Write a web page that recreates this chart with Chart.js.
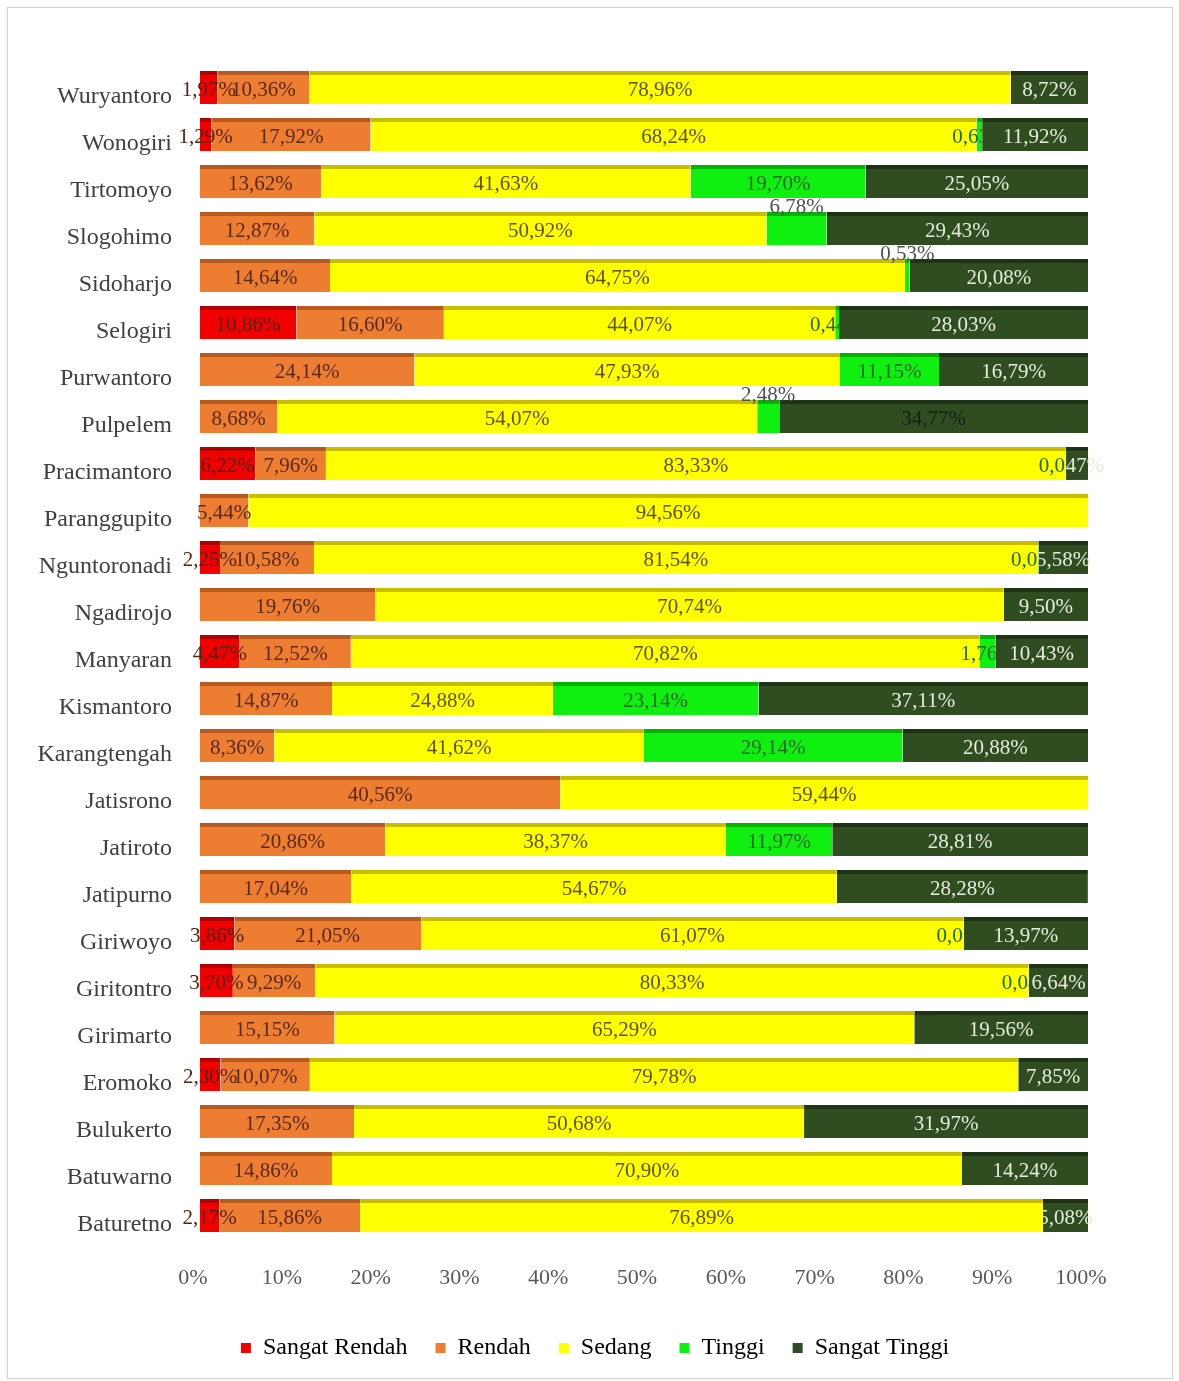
<!DOCTYPE html>
<html><head><meta charset="utf-8">
<script src="https://cdn.jsdelivr.net/npm/chart.js@4/dist/chart.umd.min.js"></script>
<style>
html,body{margin:0;background:#fff;}
#frame{position:absolute;left:7px;top:7px;width:1164px;height:1370px;border:1px solid #d4d4d4;box-shadow:0 0 3px rgba(0,0,0,0.10);}
#wrap{position:absolute;left:8px;top:8px;width:1164px;height:1373px;}
</style></head>
<body>
<div id="frame"></div>
<div id="wrap"><canvas id="c"></canvas></div>
<script>
const categories = ["Wuryantoro","Wonogiri","Tirtomoyo","Slogohimo","Sidoharjo","Selogiri","Purwantoro","Pulpelem","Pracimantoro","Paranggupito","Nguntoronadi","Ngadirojo","Manyaran","Kismantoro","Karangtengah","Jatisrono","Jatiroto","Jatipurno","Giriwoyo","Giritontro","Girimarto","Eromoko","Bulukerto","Batuwarno","Baturetno"];
const sangatRendah = [1.97,1.29,0,0,0,10.86,0,0,6.22,0,2.25,0,4.47,0,0,0,0,0,3.86,3.70,0,2.30,0,0,2.17];
const rendah       = [10.36,17.92,13.62,12.87,14.64,16.60,24.14,8.68,7.96,5.44,10.58,19.76,12.52,14.87,8.36,40.56,20.86,17.04,21.05,9.29,15.15,10.07,17.35,14.86,15.86];
const sedang       = [78.96,68.24,41.63,50.92,64.75,44.07,47.93,54.07,83.33,94.56,81.54,70.74,70.82,24.88,41.62,59.44,38.37,54.67,61.07,80.33,65.29,79.78,50.68,70.90,76.89];
const tinggi       = [0,0.63,19.70,6.78,0.53,0.44,11.15,2.48,0.02,0,0.05,0,1.76,23.14,29.14,0,11.97,0,0.05,0.04,0,0,0,0,0];
const sangatTinggi = [8.72,11.92,25.05,29.43,20.08,28.03,16.79,34.77,2.47,0,5.58,9.50,10.43,37.11,20.88,0,28.81,28.28,13.97,6.64,19.56,7.85,31.97,14.24,5.08];
const seriesNames  = ["Sangat Rendah","Rendah","Sedang","Tinggi","Sangat Tinggi"];
const xTicks = [0,10,20,30,40,50,60,70,80,90,100];

const fills   = ["#f00000","#ed7d31","#ffff00","#10f010","#304d22"];
const tops    = ["#b00000","#b85a1e","#c9bd00","#00b400","#1e3214"];
const txtCols = ["#5a2010","#5a2a10","#5e5200","#1f6a1f","#e4ecda"];
const SERIF = '"Liberation Serif","Times New Roman",serif';
// labels placed above their bar (category -> series index)
const liftedLabels = {"Slogohimo":3,"Sidoharjo":3,"Pulpelem":3};
// labels drawn in dark text on the dark series (category -> series index)
const darkLabels = {"Pulpelem":4};

const seriesData = [sangatRendah, rendah, sedang, tinggi, sangatTinggi];

const labelPlugin = {
  id: 'segLabels',
  afterLayout(chart) {
    // centre the legend under the whole figure rather than left part
    if (chart.legend) { chart.legend.left = 94; }
  },
  afterDatasetsDraw(chart) {
    const ctx = chart.ctx;
    ctx.save();
    ctx.font = '21px ' + SERIF;
    ctx.textAlign = 'center';
    ctx.textBaseline = 'middle';
    chart.data.datasets.forEach((ds, di) => {
      const meta = chart.getDatasetMeta(di);
      meta.data.forEach((bar, i) => {
        const v = ds.data[i];
        if (!v) return;
        const txt = v.toFixed(2).replace('.', ',') + '%';
        const p = bar.getProps(['x','y','base','height'], true);
        const left = Math.min(p.base, p.x), right = Math.max(p.base, p.x);
        const cx = (left + right) / 2;
        let cy = p.y + 3;
        ctx.save();
        if (liftedLabels[categories[i]] === di) {
          cy = p.y - p.height / 2 - 5;
          ctx.fillStyle = '#505050';
        } else {
          ctx.fillStyle = darkLabels[categories[i]] === di ? '#142010' : txtCols[di];
          if (di === 3) {
            ctx.beginPath(); ctx.rect(0, p.y - 30, right, 60); ctx.clip();
          } else if (di === 4) {
            ctx.beginPath(); ctx.rect(left, p.y - 30, chart.width, 60); ctx.clip();
          }
        }
        ctx.fillText(txt, cx, cy);
        ctx.restore();
      });
    });
    ctx.restore();
  }
};

new Chart(document.getElementById('c'), {
  type: 'bar',
  data: {
    labels: categories,
    datasets: seriesNames.map((n, k) => ({
      label: n,
      data: seriesData[k],
      backgroundColor: fills[k],
      borderColor: tops[k],
      borderWidth: {top: 4, left: 0, right: 0, bottom: 0},
      borderSkipped: false,
      barPercentage: 0.7,
      categoryPercentage: 1.0
    }))
  },
  options: {
    indexAxis: 'y',
    responsive: true,
    maintainAspectRatio: false,
    animation: false,
    layout: {padding: {top: 56, right: 84, bottom: 11, left: 0}},
    scales: {
      x: {
        stacked: true, min: 0, max: 100,
        grid: {display: false, drawTicks: false},
        border: {display: false},
        afterBuildTicks: (s) => { s.ticks = xTicks.map(v => ({value: v})); },
        ticks: {
          padding: 26, labelOffset: -7, maxRotation: 0,
          color: '#595959', font: {family: SERIF, size: 22},
          callback: (v) => v + '%'
        },
        afterFit: (s) => { s.height = 69; }
      },
      y: {
        stacked: true,
        grid: {display: false, drawTicks: false},
        border: {display: false},
        ticks: {padding: 28, labelOffset: 9, color: '#404040', font: {family: SERIF, size: 24}, autoSkip: false},
        afterFit: (s) => { s.width = 192; }
      }
    },
    plugins: {
      legend: {
        position: 'bottom',
        labels: {boxWidth: 10, boxHeight: 10, padding: 28, color: '#595959', font: {family: SERIF, size: 24},
          generateLabels: (chart) => chart.data.datasets.map((d, k) => ({
            text: d.label, fillStyle: fills[k], strokeStyle: fills[k], lineWidth: 0, datasetIndex: k, hidden: false
          }))
        }
      },
      tooltip: {enabled: false}
    }
  },
  plugins: [labelPlugin]
});
</script>
</body></html>
